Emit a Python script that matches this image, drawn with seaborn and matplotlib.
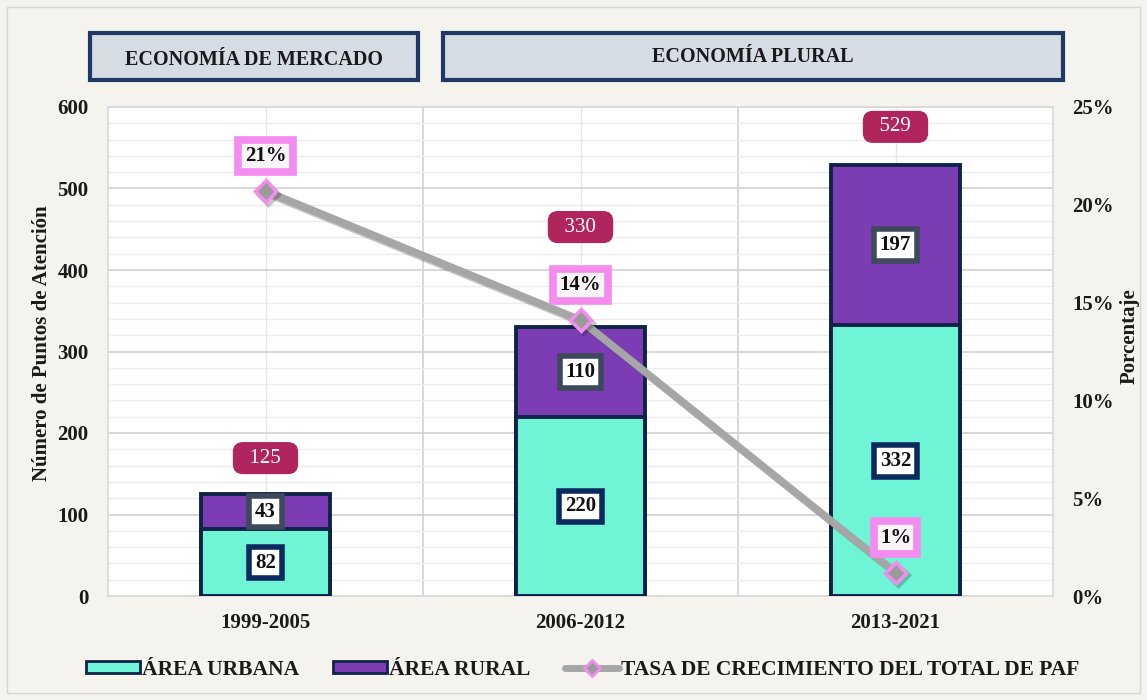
import numpy as np
import pandas as pd
import matplotlib
matplotlib.use("Agg")
import matplotlib.pyplot as plt
import seaborn as sns
from matplotlib.patches import Rectangle, Patch
from matplotlib.lines import Line2D
import matplotlib.patheffects as pe
from matplotlib.ticker import MultipleLocator, FixedLocator, FuncFormatter

# ---------------- data ----------------
categories = ["1999-2005", "2006-2012", "2013-2021"]
urbana = [82, 220, 332]
rural = [43, 110, 197]
total = [125, 330, 529]
tasa = [20.7, 14.1, 1.2]          # % growth of total PAF
periodos = ["ECONOMÍA DE MERCADO", "ECONOMÍA PLURAL"]
y_ticks = [0, 100, 200, 300, 400, 500, 600]
pct_ticks = [0, 5, 10, 15, 20, 25]
legend_labels = ["ÁREA URBANA", "ÁREA RURAL", "TASA DE CRECIMIENTO DEL TOTAL DE PAF"]

# ---------------- style ----------------
sns.set_theme(style="white")
plt.rcParams['font.family'] = ['Liberation Serif', 'DejaVu Serif']
plt.rcParams['font.weight'] = 'bold'

BG = "#f5f3ee"
URB = "#6ff5d6"
RUR = "#7b3cb4"
EDGE = "#0f2347"
LINE = "#a6a6a6"
PINK = "#f48cf0"
TOTBOX = "#b1255f"
TXT = "#1a1a1a"
FS = 15

W, H = 1147, 700
fig = plt.figure(figsize=(W / 100, H / 100), dpi=100, facecolor=BG)
ax = fig.add_axes([108 / W, 104 / H, 945 / W, 489 / H])
ax.set_facecolor("white")

df = pd.DataFrame({"cat": categories, "urbana": urbana, "rural": rural, "total": total})

sns.barplot(data=df, x="cat", y="total", color=RUR, saturation=1, width=0.41,
            edgecolor=EDGE, linewidth=2.8, ax=ax, zorder=3)
sns.barplot(data=df, x="cat", y="urbana", color=URB, saturation=1, width=0.41,
            edgecolor=EDGE, linewidth=2.8, ax=ax, zorder=3)

ax.set_xlim(-0.5, 2.5)
ax.set_ylim(0, 600)
ax.set_yticks(y_ticks)
ax.yaxis.set_minor_locator(MultipleLocator(20))
ax.xaxis.set_minor_locator(FixedLocator([0.5, 1.5]))
ax.grid(which="major", axis="y", color="#d4d4d4", lw=1.3, zorder=0)
ax.grid(which="minor", axis="y", color="#ebebeb", lw=1.0, zorder=0)
ax.grid(which="major", axis="x", color="#e6e6e6", lw=1.0, zorder=0)
ax.grid(which="minor", axis="x", color="#d4d4d4", lw=1.3, zorder=0)
ax.set_axisbelow(True)
ax.set_xlabel("")
ax.set_ylabel("")
ax.tick_params(axis="y", which="both", length=0, pad=14, labelsize=FS, colors=TXT)
ax.tick_params(axis="x", which="both", length=0, pad=12, labelsize=FS, colors=TXT)
for s in ax.spines.values():
    s.set_color("#d9d9d9")
    s.set_linewidth(1.2)

# ---------------- growth line ----------------
ax2 = ax.twinx()
sns.lineplot(x=np.arange(len(categories)), y=tasa, ax=ax2, color=LINE, lw=5.5,
             marker="D", markersize=11, markerfacecolor="#9a9a9a",
             markeredgecolor=PINK, markeredgewidth=2.5, legend=False,
             path_effects=[pe.SimpleLineShadow(offset=(2, -2), alpha=0.25), pe.Normal()],
             zorder=5)
ax2.set_ylim(0, 25)
ax2.set_yticks(pct_ticks)
ax2.yaxis.set_major_formatter(FuncFormatter(lambda v, p: f"{v:.0f}%"))
ax2.tick_params(axis="y", length=0, pad=14, labelsize=FS, colors=TXT)
ax2.grid(False)
ax2.set_xlim(-0.5, 2.5)
for s in ax2.spines.values():
    s.set_visible(False)

# ---------------- labels ----------------
for i in range(len(categories)):
    ax2.annotate(f"{urbana[i]}", xy=(i, urbana[i] / 2), xycoords=ax.transData,
                 ha="center", va="center", fontsize=FS, fontweight="bold", color="#111111",
                 bbox=dict(boxstyle="square,pad=0.28", fc="white", ec="#0d2a5e", lw=4),
                 zorder=6)
    ax2.annotate(f"{rural[i]}", xy=(i, urbana[i] + rural[i] / 2), xycoords=ax.transData,
                 ha="center", va="center", fontsize=FS, fontweight="bold", color="#111111",
                 bbox=dict(boxstyle="square,pad=0.28", fc="white", ec="#3e4a5c", lw=4),
                 zorder=6)

tot_offsets = [36, 100, 38]  # px above bar top (layout)
for i in range(len(categories)):
    ax2.annotate(f"  {total[i]}  ", xy=(i, total[i]), xycoords=ax.transData,
                 xytext=(0, tot_offsets[i] * 0.72), textcoords="offset points",
                 ha="center", va="center", fontsize=FS, fontweight="normal", color="white",
                 bbox=dict(boxstyle="round,pad=0.28,rounding_size=0.45", fc=TOTBOX, ec=TOTBOX, lw=1),
                 zorder=6)

for i in range(len(categories)):
    ax2.annotate(f"{tasa[i]:.0f}%", xy=(i, tasa[i]), xycoords="data",
                 xytext=(0, 35 * 0.72), textcoords="offset points",
                 ha="center", va="center", fontsize=FS, fontweight="bold", color="#111111",
                 bbox=dict(boxstyle="square,pad=0.3", fc="#f8f4f8", ec=PINK, lw=5.5),
                 zorder=7)

# axis titles
fig.text(42 / W, 1 - 343 / H, "Número de Puntos de Atención", rotation=90,
         ha="center", va="center", fontsize=FS, fontweight="bold", color=TXT)
fig.text(1130 / W, 1 - 336 / H, "Porcentaje", rotation=90,
         ha="center", va="center", fontsize=FS, fontweight="bold", color=TXT)

# header boxes
boxes = [(90, 418), (443, 1063)]
for (x0, x1), lab in zip(boxes, periodos):
    fig.patches.append(Rectangle((x0 / W, 1 - 80 / H), (x1 - x0) / W, 47 / H,
                                 transform=fig.transFigure, fc="#d6dce4", ec="#1f3864",
                                 lw=3, zorder=2))
fig.text((90 + 418) / 2 / W, 1 - 60 / H, periodos[0], ha="center", va="center",
         fontsize=14.5, fontweight="bold", color=TXT, zorder=3)
fig.text((443 + 1063) / 2 / W, 1 - 57 / H, periodos[1], ha="center", va="center",
         fontsize=14.5, fontweight="bold", color=TXT, zorder=3)

# figure border
fig.patches.append(Rectangle((7 / W, 7 / H), (W - 14) / W, (H - 14) / H,
                             transform=fig.transFigure, fill=False, ec="#d5d5d5", lw=1))

# legend
handles = [Patch(fc=URB, ec=EDGE, lw=2),
           Patch(fc=RUR, ec=EDGE, lw=2),
           Line2D([], [], color=LINE, lw=5, marker="D", markersize=8,
                  markerfacecolor="#9a9a9a", markeredgecolor=PINK, markeredgewidth=2)]
leg = fig.legend(handles, legend_labels, loc="center", bbox_to_anchor=(0.508, 30 / H),
                 ncol=3, frameon=False, fontsize=15.5, handlelength=2.5, handleheight=0.5,
                 handletextpad=0.1, columnspacing=1.6)
for t in leg.get_texts():
    t.set_color(TXT)

fig.savefig("out.png", dpi=100, facecolor=BG)
